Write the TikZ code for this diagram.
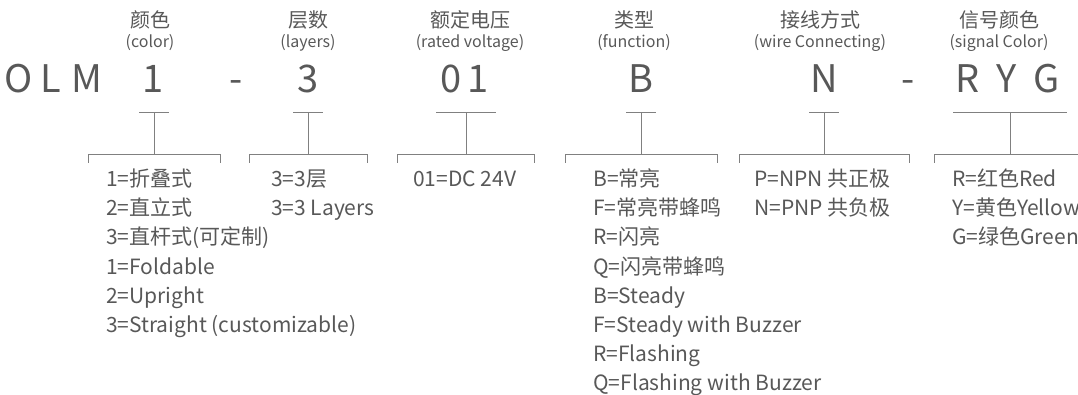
\documentclass[tikz,border=0pt]{standalone}
\usepackage{fontspec}
\setmainfont{Noto Sans CJK SC}
\usepackage{xcolor}
\usepackage{tikz}
\usetikzlibrary{positioning}
\definecolor{codegray}{RGB}{88,88,88}
\definecolor{linegray}{RGB}{128,128,128}

\begin{document}
\begin{tikzpicture}[x=1pt,y=-1pt,
  code/.style={anchor=base,inner sep=0pt,text=codegray,font=\fontsize{38}{38}\selectfont},
  head/.style={anchor=base,inner sep=0pt,text=codegray,font=\fontsize{20}{20}\selectfont},
  sub/.style={anchor=base,inner sep=0pt,text=codegray,font=\fontsize{16}{16}\selectfont},
  item/.style={anchor=base west,inner sep=0pt,text=codegray,font=\fontsize{21}{21}\selectfont},
  bar/.style={draw=linegray,line width=1pt}]
\useasboundingbox (0,0) rectangle (1078,395);
% model code, one node per character
\foreach \ch/\x [count=\i] in {O/19,L/51,M/87,1/153,-/236,3/308,0/451,1/478,B/641,N/824,-/908,R/968,Y/1007,G/1047}{
  \node[code] (c\i) at (\x,93) {\ch};
}
% headings
\foreach \h/\s/\x [count=\i] in {颜色/(color)/150,层数/(layers)/308,额定电压/(rated voltage)/470,
    类型/(function)/634,接线方式/(wire Connecting)/820,信号颜色/(signal Color)/999}{
  \node[head] (h\i) at (\x,28) {\h};
  \node[sub] (s\i) at (\x,48) {\s};
}
% bars, stems and brackets
\foreach \bx/\bw/\bl/\br [count=\i] in {154/15/88/220,308/15/249/367,466/30/397/534,
    641/15/565/717,824/15/739/909,1010/57/934/1090}{
  \coordinate (tl\i) at (\bx-\bw,113);
  \coordinate (tr\i) at (\bx+\bw,113);
  \coordinate (t\i) at (\bx,113);
  \coordinate (m\i) at (\bx,155);
  \coordinate (ml\i) at (\bl,155);
  \coordinate (mr\i) at (\br,155);
  \coordinate (bl\i) at (\bl,163);
  \coordinate (br\i) at (\br,163);
  \draw[bar] (tl\i) -- (tr\i);
  \draw[bar] (t\i) -- (m\i);
  \draw[bar] (bl\i) -- (ml\i) -- (mr\i) -- (br\i);
}
% option lists
\foreach \t [count=\k from 0] in {1=折叠式,2=直立式,3=直杆式(可定制),1=Foldable,2=Upright,3=Straight (customizable)}{
  \node[item] (a\k) at (106,{187+29*\k}) {\t};
}
\foreach \t [count=\k from 0] in {3=3层,3=3 Layers}{
  \node[item] (b\k) at (271,{187+29*\k}) {\t};
}
\node[item] (v0) at (413,187) {01=DC 24V};
\foreach \t [count=\k from 0] in {B=常亮,F=常亮带蜂鸣,R=闪亮,Q=闪亮带蜂鸣,B=Steady,F=Steady with Buzzer,R=Flashing,Q=Flashing with Buzzer}{
  \node[item] (f\k) at (593,{187+29*\k}) {\t};
}
\foreach \t [count=\k from 0] in {P=NPN 共正极,N=PNP 共负极}{
  \node[item] (w\k) at (754,{187+29*\k}) {\t};
}
\foreach \t [count=\k from 0] in {R=红色Red,Y=黄色Yellow,G=绿色Green}{
  \node[item] (r\k) at (952,{187+29*\k}) {\t};
}
\end{tikzpicture}
\end{document}
